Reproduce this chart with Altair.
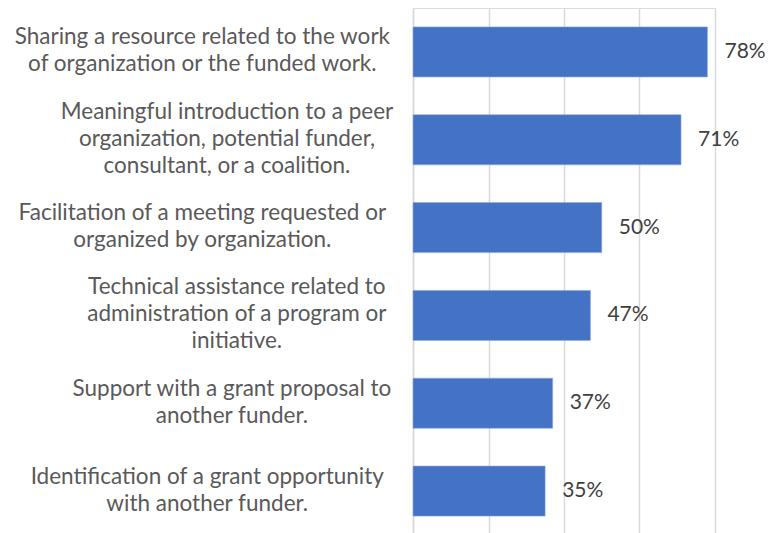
import altair as alt
import pandas as pd

categories = [
    "Sharing a resource related to the work|of organization or the funded work.",
    "Meaningful introduction to a peer|organization, potential funder,|consultant, or a coalition.",
    "Facilitation of a meeting requested or|organized by organization.",
    "Technical assistance related to|administration of a program or|initiative.",
    "Support with a grant proposal to|another funder.",
    "Identification of a grant opportunity|with another funder.",
]
values = [0.78, 0.71, 0.50, 0.47, 0.37, 0.35]

df = pd.DataFrame({"category": categories, "value": values})

FONT = "Lato"
LABEL_SIZE = 22.5
CHAR_W = 9.85
LINE_H = 27

pad_expr = (
    "24 + {w}/2 * max(length(split(datum.value,'|')[0]), "
    "length(split(datum.value,'|')[1] || ''), "
    "length(split(datum.value,'|')[2] || ''))"
).format(w=CHAR_W)
off_expr = "-1 - {h}/2 * (length(split(datum.value,'|')) - 1)".format(h=LINE_H)

y_enc = alt.Y(
    "category:N",
    sort=categories,
    title=None,
    scale=alt.Scale(paddingInner=0.43, paddingOuter=0.215),
    axis=alt.Axis(
        labelExpr="split(datum.label, '|')",
        labelAlign="center",
        labelBaseline="middle",
        labelPadding={"expr": pad_expr},
        labelOffset={"expr": off_expr},
        labelFont=FONT,
        labelFontSize=LABEL_SIZE,
        labelLineHeight=LINE_H,
        labelColor="#595959",
        labelLimit=0,
        ticks=False,
        tickSize=0,
        domainColor="#D9D9D9",
        domainWidth=1.5,
        grid=False,
    ),
)

x_enc = alt.X(
    "value:Q",
    title=None,
    scale=alt.Scale(domain=[0, 0.8], nice=False),
    axis=alt.Axis(
        values=[0, 0.2, 0.4, 0.6, 0.8],
        labels=False,
        ticks=False,
        domain=False,
        grid=True,
        gridColor="#D9D9D9",
        gridWidth=1.5,
    ),
)

base = alt.Chart(df).encode(y=y_enc, x=x_enc)

bars = base.mark_bar(color="#4472C4", stroke="#8FAADC", strokeWidth=0.6)
labels = base.mark_text(
    align="left", baseline="middle", dx=17, font=FONT, fontSize=21, color="#404040"
).encode(text=alt.Text("value:Q", format=".0%"))

chart = (
    alt.layer(bars, labels)
    .properties(
        width=302,
        height=527,
        autosize=alt.AutoSizeParams(type="none"),
        padding={"left": 405, "top": 0, "right": 60, "bottom": 0},
    )
    .configure_view(stroke=None)
    .configure(background="white")
)

chart.save("out.html", embed_options={"renderer": "svg", "actions": False})
